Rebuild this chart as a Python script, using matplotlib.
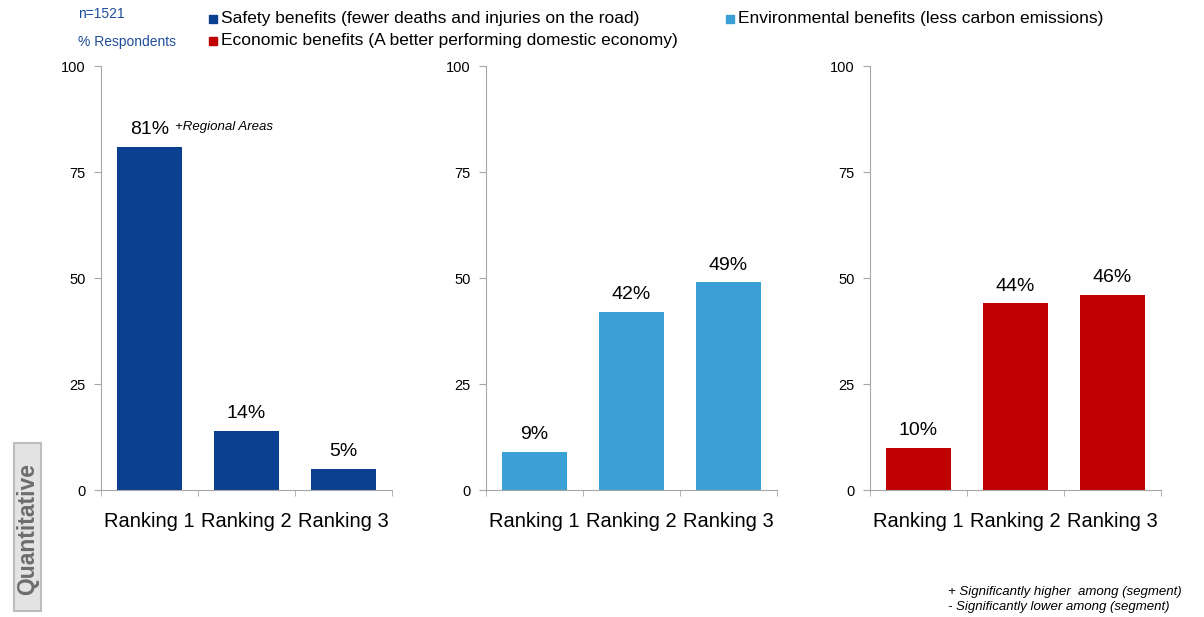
import numpy as np
import matplotlib.pyplot as plt
from matplotlib.patches import FancyBboxPatch

plt.rcParams['font.family'] = ['Liberation Sans', 'DejaVu Sans']

# Share of respondents choosing each benefit at each ranking
rankings = ['Ranking 1', 'Ranking 2', 'Ranking 3']
safety = [81, 14, 5]
environmental = [9, 42, 49]
economic = [10, 44, 46]

series_names = ['Safety benefits (fewer deaths and injuries on the road)',
                'Environmental benefits (less carbon emissions)',
                'Economic benefits (A better performing domestic economy)']
colors = ['#0b3f8f', '#3aa0d5', '#c00000']
y_ticks = [0, 25, 50, 75, 100]

fig = plt.figure(figsize=(12.04, 6.17), dpi=100)

W, H = 1204, 617
axis_color = '#a6a6a6'
panel_left = [101, 486, 870]
panel_width = 291
bottom_px, top_px = 490, 66

for left, values, color in zip(panel_left, [safety, environmental, economic], colors):
    ax = fig.add_axes([left / W, (H - bottom_px) / H, panel_width / W, (bottom_px - top_px) / H])
    x = np.arange(len(rankings))
    ax.bar(x, values, width=0.67, color=color)
    ax.set_xlim(-0.5, 2.5)
    ax.set_ylim(0, 100)
    ax.set_yticks(y_ticks)
    ax.set_xticks(x)
    ax.set_xticklabels(rankings, fontsize=14.5)
    ax.set_xticks([-0.5, 0.5, 1.5, 2.5], minor=True)
    ax.tick_params(axis='x', which='major', length=0, pad=16)
    ax.tick_params(axis='x', which='minor', length=4, color=axis_color, direction='out')
    ax.tick_params(axis='y', length=5, color=axis_color, labelsize=10.5, pad=6)
    for side in ['top', 'right']:
        ax.spines[side].set_visible(False)
    for side in ['left', 'bottom']:
        ax.spines[side].set_color(axis_color)
    for xi, v in zip(x, values):
        ax.text(xi, v + 2.0, f'{v}%', ha='center', va='bottom', fontsize=14)
    if values is safety:
        ax.text(0.26, safety[0] + 3.3, '+Regional Areas', ha='left', va='bottom',
                fontsize=9.5, style='italic')

# Sample size and units
fig.text(78 / W, 1 - 14 / H, 'n=1521', color='#1f4e9a', fontsize=10, va='center')
fig.text(78 / W, 1 - 42 / H, '% Respondents', color='#1f4e9a', fontsize=10, va='center')

# Legend entries drawn as square markers with text
legend_pos = [(213, 19), (730, 19), (213, 41)]
for (lx, ly), name, color in zip(legend_pos, series_names, colors):
    fig.patches.append(plt.Rectangle(((lx - 4) / W, 1 - (ly + 4) / H), 8 / W, 8 / H,
                                     color=color, transform=fig.transFigure))
    fig.text((lx + 8) / W, 1 - ly / H, name, fontsize=12.5, va='center')

# Side box label
box = FancyBboxPatch((14 / W, 1 - 611 / H), 27 / W, 168 / H,
                     boxstyle='square,pad=0', facecolor='#e3e3e3', edgecolor='#bdbdbd',
                     linewidth=1.5, transform=fig.transFigure)
fig.patches.append(box)
fig.text(28 / W, 1 - 529 / H, 'Quantitative', rotation=90, fontsize=16.5,
         fontweight='bold', color='#6d6d6d', ha='center', va='center')

# Footnotes
fig.text(948 / W, 1 - 592 / H, '+ Significantly higher  among (segment)',
         fontsize=9.5, style='italic', va='center')
fig.text(948 / W, 1 - 607 / H, '- Significantly lower among (segment)',
         fontsize=9.5, style='italic', va='center')

fig.savefig('out.png', dpi=100)
